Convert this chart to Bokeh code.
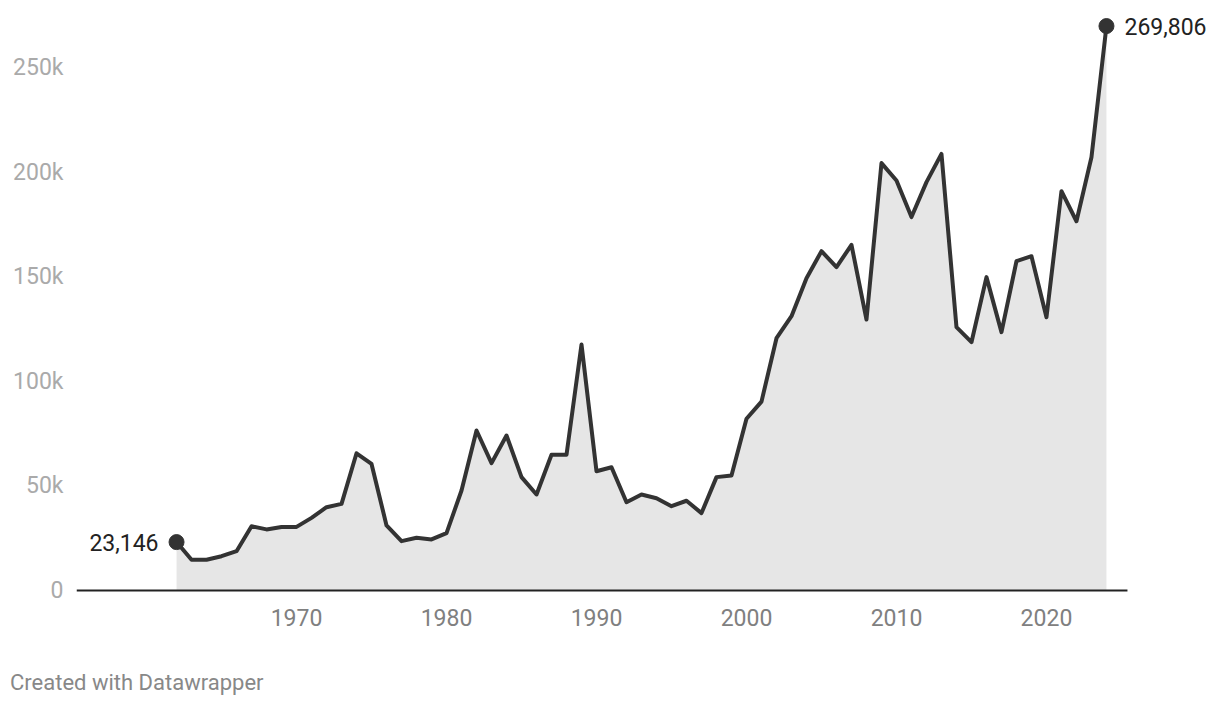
from bokeh.plotting import figure
from bokeh.models import Range1d, FixedTicker, Label, Div
from bokeh.layouts import column
from bokeh.embed import file_html
from bokeh.resources import INLINE

years = list(range(1962, 2025))
values = [23146, 14700, 14700, 16400, 18800, 30700, 29200, 30400, 30400, 34700,
          39800, 41400, 65600, 60500, 31100, 23600, 25200, 24400, 27400, 47800,
          76500, 60900, 74100, 54200, 45900, 64900, 64900, 117600, 57000, 58900,
          42200, 45900, 44100, 40300, 42900, 37000, 54200, 55000, 82100, 90300,
          120600, 131100, 149300, 162200, 154600, 165200, 129500, 204300, 196000, 178500,
          195200, 208700, 125900, 118700, 149800, 123500, 157400, 159800, 130600, 190900,
          176500, 207100, 269806]

x_ticks = [1970, 1980, 1990, 2000, 2010, 2020]
y_ticks = [0, 50000, 100000, 150000, 200000, 250000]
y_tick_labels = ["0", "50k", "100k", "150k", "200k", "250k"]
footer_text = "Created with Datawrapper"

FONT = "Roboto"

x_start = 1955.33
p = figure(width=1220, height=650, output_backend="svg", toolbar_location=None,
           x_range=Range1d(x_start, 2031.27), y_range=Range1d(-1434, 274856),
           min_border_left=76, min_border_right=5, min_border_top=15, min_border_bottom=57)
p.outline_line_color = None
p.grid.visible = False
p.background_fill_color = "white"
p.border_fill_color = "white"

p.varea(x=years, y1=[0] * len(years), y2=values, fill_color="#e6e6e6")
# baseline at zero
p.segment(x0=[x_start], x1=[years[-1] + 1.4], y0=[0], y1=[0],
          line_color="#222222", line_width=2)
p.line(years, values, line_color="#333333", line_width=4, line_join="round")
p.scatter([years[0], years[-1]], [values[0], values[-1]], size=15,
          fill_color="#333333", line_color="#333333")

p.add_layout(Label(x=years[0], y=values[0], text=f"{values[0]:,}", x_offset=-18,
                   text_align="right", text_baseline="middle", text_font=FONT,
                   text_font_size="23px", text_color="#222222"))
p.add_layout(Label(x=years[-1], y=values[-1], text=f"{values[-1]:,}", x_offset=18,
                   text_align="left", text_baseline="middle", text_font=FONT,
                   text_font_size="23px", text_color="#222222"))

xa = p.xaxis[0]
xa.ticker = FixedTicker(ticks=x_ticks)
xa.axis_line_color = None
xa.major_tick_line_color = None
xa.minor_tick_line_color = None
xa.major_label_standoff = 9
xa.major_label_text_font = FONT
xa.major_label_text_font_size = "23px"
xa.major_label_text_color = "#808080"

ya = p.yaxis[0]
ya.ticker = FixedTicker(ticks=y_ticks)
ya.major_label_overrides = {t: l for t, l in zip(y_ticks, y_tick_labels)}
ya.axis_line_color = None
ya.major_tick_line_color = None
ya.minor_tick_line_color = None
ya.major_label_standoff = 7
ya.major_label_text_font = FONT
ya.major_label_text_font_size = "23px"
ya.major_label_text_color = "#aaaaaa"

footer = Div(text=footer_text, margin=(20, 0, 0, 10),
             styles={"font-family": FONT, "font-size": "22px", "color": "#888888",
                     "line-height": "26px"})

open("out.html", "w").write(file_html(column(p, footer), INLINE))
